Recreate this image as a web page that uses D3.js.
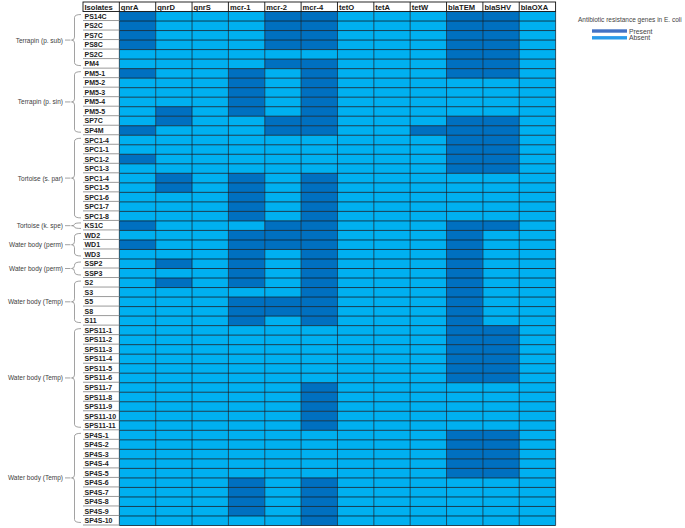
<!DOCTYPE html>
<html>
<head>
<meta charset="utf-8">
<script src="https://cdn.jsdelivr.net/npm/d3@7"></script>
<style>
body { margin: 0; background: #fff; }
svg { display: block; font-family: "Liberation Sans", Arial, sans-serif; }
</style>
</head>
<body>
<svg id="chart"></svg>
<script>
const width = 685, height = 528;

const genes = ["qnrA", "qnrD", "qnrS", "mcr-1", "mcr-2", "mcr-4", "tetO", "tetA", "tetW", "blaTEM", "blaSHV", "blaOXA"];

const isolates = [
    "PS14C", "PS2C", "PS7C", "PS8C", "PS2C", "PM4", "PM5-1", "PM5-2", "PM5-3", "PM5-4", "PM5-5", "SP7C", "SP4M",
    "SPC1-4", "SPC1-1", "SPC1-2", "SPC1-3", "SPC1-4", "SPC1-5", "SPC1-6", "SPC1-7", "SPC1-8",
    "KS1C", "WD2", "WD1", "WD3", "SSP2", "SSP3", "S2", "S3", "S5", "S8", "S11",
    "SPS11-1", "SPS11-2", "SPS11-3", "SPS11-4", "SPS11-5", "SPS11-6", "SPS11-7", "SPS11-8", "SPS11-9", "SPS11-10", "SPS11-11",
    "SP4S-1", "SP4S-2", "SP4S-3", "SP4S-4", "SP4S-5", "SP4S-6", "SP4S-7", "SP4S-8", "SP4S-9", "SP4S-10"
];

// 1 = present, 0 = absent, same order as genes
const presence = [
    [1,0,0,0,1,1,0,0,0,1,1,0],
    [1,0,0,0,1,1,0,0,0,1,1,0],
    [1,0,0,0,1,1,0,0,0,1,1,0],
    [1,0,0,0,1,1,0,0,0,1,1,0],
    [0,0,0,0,0,0,0,0,0,1,1,0],
    [0,0,0,0,1,1,0,0,0,1,1,0],
    [1,0,0,1,0,1,0,0,0,1,1,0],
    [0,0,0,1,0,1,0,0,0,0,0,0],
    [0,0,0,1,0,1,0,0,0,0,0,0],
    [0,0,0,1,0,1,0,0,0,0,0,0],
    [0,1,0,1,0,1,0,0,0,0,0,0],
    [0,1,0,0,1,1,0,0,0,1,1,0],
    [1,0,0,0,1,1,0,0,1,1,1,0],
    [0,0,0,0,0,0,0,0,0,1,1,0],
    [0,0,0,0,0,0,0,0,0,1,1,0],
    [1,0,0,0,0,0,0,0,0,1,1,0],
    [0,0,0,0,0,0,0,0,0,1,1,0],
    [0,1,0,1,0,1,0,0,0,0,0,0],
    [0,1,0,1,0,1,0,0,0,0,0,0],
    [0,0,0,1,0,1,0,0,0,0,0,0],
    [0,0,0,1,0,1,0,0,0,0,0,0],
    [0,0,0,1,0,1,0,0,0,0,0,0],
    [1,0,0,0,1,1,0,0,0,1,1,0],
    [0,0,0,1,1,1,0,0,0,1,0,0],
    [1,0,0,1,1,1,0,0,0,1,0,0],
    [0,0,0,1,0,1,0,0,0,1,0,0],
    [0,1,0,1,0,1,0,0,0,1,0,0],
    [0,0,0,1,0,1,0,0,0,1,0,0],
    [0,1,0,1,0,1,0,0,0,1,0,0],
    [0,0,0,0,0,1,0,0,0,1,0,0],
    [0,0,0,1,1,1,0,0,0,1,0,0],
    [0,0,0,1,1,1,0,0,0,1,0,0],
    [0,0,0,1,0,1,0,0,0,1,0,0],
    [0,0,0,0,0,0,0,0,0,1,1,0],
    [0,0,0,0,0,0,0,0,0,1,1,0],
    [0,0,0,0,0,0,0,0,0,1,1,0],
    [0,0,0,0,0,0,0,0,0,1,1,0],
    [0,0,0,0,0,0,0,0,0,1,1,0],
    [0,0,0,0,0,0,0,0,0,1,1,0],
    [0,0,0,0,0,1,0,0,0,0,0,0],
    [0,0,0,0,0,1,0,0,0,0,0,0],
    [0,0,0,0,0,1,0,0,0,0,0,0],
    [0,0,0,0,0,1,0,0,0,0,0,0],
    [0,0,0,0,0,1,0,0,0,0,0,0],
    [0,0,0,0,0,0,0,0,0,1,1,0],
    [0,0,0,0,0,0,0,0,0,1,1,0],
    [0,0,0,0,0,0,0,0,0,1,1,0],
    [0,0,0,0,0,0,0,0,0,1,1,0],
    [0,0,0,0,0,0,0,0,0,1,1,0],
    [0,0,0,1,0,1,0,0,0,0,0,0],
    [0,0,0,1,0,1,0,0,0,0,0,0],
    [0,0,0,1,0,1,0,0,0,0,0,0],
    [0,0,0,1,0,1,0,0,0,0,0,0],
    [0,0,0,0,0,1,0,0,0,0,0,0]
];

// source groups: first and last isolate index
const groupLabels = ["Terrapin (p. sub)", "Terrapin (p. sin)", "Tortoise (s. par)", "Tortoise (k. spe)",
    "Water body (perm)", "Water body (perm)", "Water body (Temp)", "Water body (Temp)", "Water body (Temp)"];
const groupFirst = [0, 6, 13, 22, 23, 26, 28, 33, 44];
const groupLast  = [5, 12, 21, 22, 25, 27, 32, 43, 53];

const legendTitle = "Antibiotic resistance genes in E. coli";
const legendLabels = ["Present", "Absent"];

const cellColor = { 1: "#0070c0", 0: "#00b0f0" };
const legendColor = ["#4472c4", "#2a9bea"];

const svg = d3.select("#chart")
    .attr("width", width)
    .attr("height", height);

const x = d3.scaleBand()
    .domain(["Isolates", ...genes])
    .range([83, 555.6]);

const y = d3.scaleBand()
    .domain(d3.range(isolates.length + 1))
    .range([2, 525.5]);

const bw = x.bandwidth(), bh = y.bandwidth();
const gx0 = x(genes[0]), gx1 = x.range()[1];
const rowTop = y(1), rowBottom = y.range()[1];

// cells
const cells = [];
presence.forEach((row, i) => row.forEach((v, j) => cells.push({ i, gene: genes[j], v })));

svg.append("g").selectAll("rect")
    .data(cells)
    .enter().append("rect")
    .attr("x", d => x(d.gene))
    .attr("y", d => y(d.i + 1))
    .attr("width", bw)
    .attr("height", bh)
    .attr("fill", d => cellColor[d.v]);

// grid
const grid = svg.append("g")
    .attr("stroke", "#0a1e2c")
    .attr("stroke-opacity", 0.8);

grid.selectAll(".h")
    .data(d3.range(1, isolates.length + 2))
    .enter().append("line")
    .attr("x1", gx0).attr("x2", gx1)
    .attr("y1", k => k <= isolates.length ? y(k) : rowBottom)
    .attr("y2", k => k <= isolates.length ? y(k) : rowBottom)
    .attr("stroke-width", 1);

grid.selectAll(".v")
    .data(genes.concat(["end"]))
    .enter().append("line")
    .attr("x1", g => g === "end" ? gx1 : x(g))
    .attr("x2", g => g === "end" ? gx1 : x(g))
    .attr("y1", rowTop).attr("y2", rowBottom)
    .attr("stroke-width", 0.9);

// header row
const header = svg.append("g");
header.append("rect")
    .attr("x", x.range()[0]).attr("y", y(0))
    .attr("width", gx1 - x.range()[0]).attr("height", bh)
    .attr("fill", "#fff")
    .attr("stroke", "#111")
    .attr("stroke-width", 0.9);

header.selectAll("line")
    .data(genes)
    .enter().append("line")
    .attr("x1", g => x(g)).attr("x2", g => x(g))
    .attr("y1", y(0)).attr("y2", rowTop)
    .attr("stroke", "#111")
    .attr("stroke-width", 0.9);

header.selectAll("text")
    .data(["Isolates", ...genes])
    .enter().append("text")
    .attr("x", g => x(g) + 1.5)
    .attr("y", y(0) + bh / 2 + 0.5)
    .attr("dominant-baseline", "central")
    .style("font-size", "7.6px")
    .style("font-weight", "bold")
    .style("fill", "#1a1a1a")
    .text(g => g);

// isolate names
const names = svg.append("g");
names.selectAll("line")
    .data(isolates)
    .enter().append("line")
    .attr("x1", x("Isolates")).attr("x2", x("Isolates") + bw)
    .attr("y1", (d, i) => y(i + 1) + bh - 0.5)
    .attr("y2", (d, i) => y(i + 1) + bh - 0.5)
    .attr("stroke", "#9a9a9a")
    .attr("stroke-width", 1);

names.selectAll("text")
    .data(isolates)
    .enter().append("text")
    .attr("x", x("Isolates") + 1.5)
    .attr("y", (d, i) => y(i + 1) + bh / 2)
    .attr("dominant-baseline", "central")
    .style("font-size", "7px")
    .style("font-weight", "bold")
    .style("fill", "#222")
    .text(d => d);

// group braces
function brace(y0, y1) {
    const xr = 81, xv = 74.5, xt = 71.5, ym = (y0 + y1) / 2;
    const r = Math.min(3, (y1 - y0) / 4);
    return `M${xr},${y0} Q${xv},${y0} ${xv},${y0 + r} L${xv},${ym - r} Q${xv},${ym} ${xt},${ym}` +
        ` Q${xv},${ym} ${xv},${ym + r} L${xv},${y1 - r} Q${xv},${y1} ${xr},${y1}`;
}

const groups = groupLabels.map((label, k) => {
    const inset = groupFirst[k] === groupLast[k] ? 2 : 3;
    const y0 = y(groupFirst[k] + 1) + inset;
    const y1 = y(groupLast[k] + 1) + bh - inset;
    return { label, y0, y1, ym: (y0 + y1) / 2 };
});

const gg = svg.append("g");
gg.selectAll("path")
    .data(groups)
    .enter().append("path")
    .attr("d", d => brace(d.y0, d.y1))
    .attr("fill", "none")
    .attr("stroke", "#8a8a8a")
    .attr("stroke-width", 0.8);

gg.selectAll("line")
    .data(groups)
    .enter().append("line")
    .attr("x1", 65).attr("x2", 70.5)
    .attr("y1", d => d.ym).attr("y2", d => d.ym)
    .attr("stroke", "#8a8a8a")
    .attr("stroke-width", 0.8);

gg.selectAll("text")
    .data(groups)
    .enter().append("text")
    .attr("x", 63)
    .attr("y", d => d.ym)
    .attr("text-anchor", "end")
    .attr("dominant-baseline", "central")
    .style("font-size", "6.5px")
    .style("fill", "#404040")
    .text(d => d.label);

// legend
const legend = svg.append("g");
legend.append("text")
    .attr("x", 578).attr("y", 19.5)
    .attr("dominant-baseline", "central")
    .style("font-size", "6.5px")
    .style("fill", "#444")
    .text(legendTitle);

const items = legend.selectAll(".item")
    .data(legendLabels)
    .enter().append("g")
    .attr("transform", (d, i) => `translate(592,${31 + i * 6.8})`);

items.append("rect")
    .attr("x", 0).attr("y", -1.7)
    .attr("width", 35).attr("height", 3.4)
    .attr("fill", (d, i) => legendColor[i]);

items.append("text")
    .attr("x", 37).attr("y", 0)
    .attr("dominant-baseline", "central")
    .style("font-size", "6.8px")
    .style("fill", "#444")
    .text(d => d);
</script>
</body>
</html>
